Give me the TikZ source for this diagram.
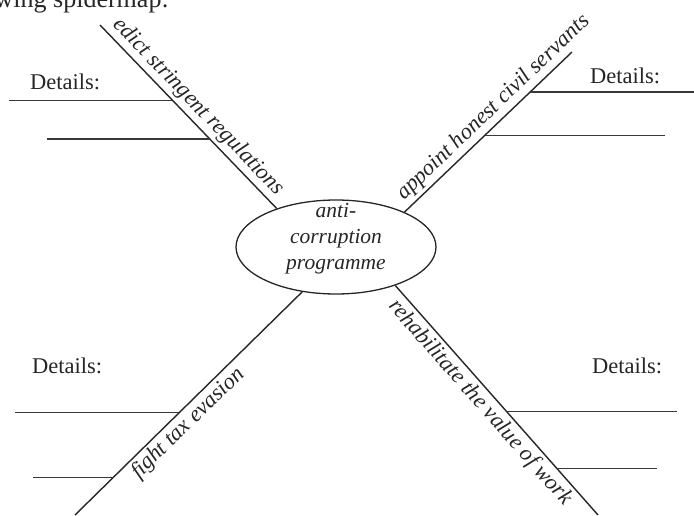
\documentclass[tikz,border=0pt]{standalone}
\usepackage{fontspec}
\setmainfont{Liberation Serif}
\usetikzlibrary{shapes.geometric}
\definecolor{ink}{HTML}{262626}
\definecolor{rulec}{HTML}{383838}
\begin{document}
\begin{tikzpicture}[x=1pt,y=-1pt,
  diag/.style={draw=ink, line width=1.4pt},
  rulel/.style={draw=rulec, line width=1.2pt},
  lab/.style={font=\fontsize{22.5}{27}\selectfont\itshape, text=ink, inner sep=3pt, sloped},
  det/.style={font=\fontsize{22.5}{27}\selectfont, text=ink, anchor=base west, inner sep=0pt},
  hub/.style={draw=ink, line width=1.3pt, ellipse, minimum width=200pt, minimum height=94pt, inner sep=0pt}]
\useasboundingbox (0,0) rectangle (694,515);
\clip (0,0) rectangle (694,515);
\fill[white] (0,0) rectangle (694,515);
\node[anchor=base west, font=\fontsize{26}{30}\selectfont, text=ink, inner sep=0pt] (head) at (-5.5,7) {wing spidermap:};

\node[hub] (ell) at (336,247) {};
\node[font=\fontsize{21.5}{26}\selectfont\itshape, text=ink, align=center, inner sep=0pt] (hubtext) at (336,238.5) {anti-\\corruption\\programme};

\coordinate (nwout) at (100,25);
\coordinate (neout) at (572,52);
\coordinate (swout) at (75,515);
\coordinate (seout) at (598,515);

\draw[diag] (nwout) -- node[lab, above, pos=0.5] (nwlab) {edict stringent regulations}
  coordinate[pos=0.41] (nwa) coordinate[pos=0.621] (nwb) (ell.147);
\draw[diag] (ell.27) -- node[lab, above, pos=0.59] (nelab) {appoint honest civil servants}
  coordinate[pos=0.75] (nea) coordinate[pos=0.48] (neb) (neout);
\draw[diag] (swout) -- node[lab, below, pos=0.455] (swlab) {fight tax evasion}
  coordinate[pos=0.458] (swa) coordinate[pos=0.169] (swb) (ell.233);
\draw[diag] (ell.327) -- node[lab, below, pos=0.47] (selab) {rehabilitate the value of work}
  coordinate[pos=0.548] (sea) coordinate[pos=0.796] (seb) (seout);

\coordinate (nwl1) at (9,101);
\coordinate (nwl2) at (47,140);
\coordinate (nel1) at (694,92);
\coordinate (nel2) at (665,135);
\coordinate (swl1) at (15,412);
\coordinate (swl2) at (33,477);
\coordinate (sel1) at (677,411);
\coordinate (sel2) at (657,468);

\draw[rulel] (nwa -| nwl1) -- (nwa);
\draw[rulel] (nwb -| nwl2) -- (nwb);
\draw[rulel] (nea) -- (nea -| nel1);
\draw[rulel] (neb) -- (neb -| nel2);
\draw[rulel] (swa -| swl1) -- (swa);
\draw[rulel] (swb -| swl2) -- (swb);
\draw[rulel] (sea) -- (sea -| sel1);
\draw[rulel] (seb) -- (seb -| sel2);

\node[det] (nwdet) at (30,89) {Details:};
\node[det] (nedet) at (590,83) {Details:};
\node[det] (swdet) at (32,373) {Details:};
\node[det] (sedet) at (592,373) {Details:};
\end{tikzpicture}
\end{document}
